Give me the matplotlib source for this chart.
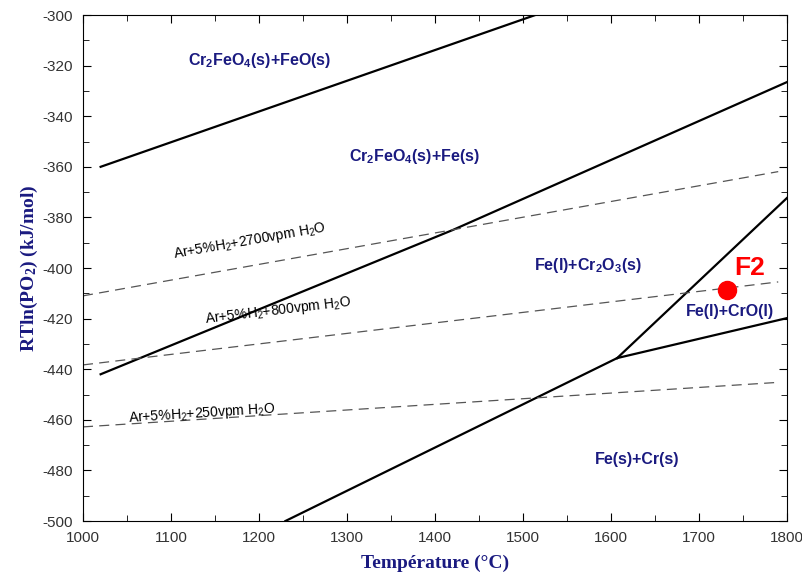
import numpy as np
import matplotlib.pyplot as plt
from matplotlib.ticker import MultipleLocator

plt.rcParams['axes.unicode_minus'] = False
plt.rcParams['mathtext.default'] = 'regular'

# phase boundaries (T in degC, RTln(PO2) in kJ/mol)
feo_fe_T = [1020, 1514]
feo_fe_G = [-360, -300]

spinel_T = [1020, 1420, 1800]
spinel_G = [-442, -385, -326.5]

crcr2o3_T = [1230, 1607]
crcr2o3_G = [-500, -435.6]

cr2o3_cro_T = [1607, 1800]
cr2o3_cro_G = [-435.6, -372.3]

cro_cr_T = [1607, 1800]
cro_cr_G = [-435.6, -419.8]

# gas atmospheres
gas_T = [1000, 1790]
gas_2700 = [-411, -361.9]
gas_800 = [-438.3, -405.5]
gas_250 = [-462.8, -445.2]

f2_T = 1732
f2_G = -408.7

navy = '#1a1a80'

fig = plt.figure(figsize=(8.03, 5.75), dpi=100)
ax = fig.add_axes([0.1034, 0.0939, 0.8767, 0.8800])

for T, G in [(feo_fe_T, feo_fe_G), (spinel_T, spinel_G), (crcr2o3_T, crcr2o3_G),
             (cr2o3_cro_T, cr2o3_cro_G), (cro_cr_T, cro_cr_G)]:
    ax.plot(T, G, color='black', lw=1.6)

for G in [gas_2700, gas_800, gas_250]:
    ax.plot(gas_T, G, color='#555555', lw=0.9, dashes=(8, 5))

ax.plot(f2_T, f2_G, 'o', color='red', ms=13)
ax.text(1758, -400, 'F2', color='red', fontsize=19, fontweight='bold',
        ha='center', va='center', family='Liberation Sans')

lab_kw = dict(color='black', fontsize=10, ha='center', va='center', family='Liberation Sans')
ax.text(1190, -389.5, 'Ar+5%H$_2$+2700vpm H$_2$O', rotation=10, **lab_kw)
ax.text(1222, -417, 'Ar+5%H$_2$+800vpm H$_2$O', rotation=6.8, **lab_kw)
ax.text(1135, -457.5, 'Ar+5%H$_2$+250vpm H$_2$O', rotation=3.7, **lab_kw)

reg_kw = dict(color=navy, fontsize=11.5, fontweight='bold', ha='center', va='center',
              family='Liberation Sans')
ax.text(1201, -317.8, 'Cr$_2$FeO$_4$(s)+FeO(s)', **reg_kw)
ax.text(1377, -356, 'Cr$_2$FeO$_4$(s)+Fe(s)', **reg_kw)
ax.text(1574, -399, 'Fe(l)+Cr$_2$O$_3$(s)', **reg_kw)
ax.text(1735, -417, 'Fe(l)+CrO(l)', **reg_kw)
ax.text(1630, -475.5, 'Fe(s)+Cr(s)', **reg_kw)

ax.set_xlim(1000, 1800)
ax.set_ylim(-500, -300)
ax.xaxis.set_major_locator(MultipleLocator(100))
ax.xaxis.set_minor_locator(MultipleLocator(50))
ax.yaxis.set_major_locator(MultipleLocator(20))
ax.yaxis.set_minor_locator(MultipleLocator(10))
ax.tick_params(which='both', direction='in', top=True, right=True, labelsize=11,
               colors='black', pad=7)
ax.tick_params(which='major', length=6)
ax.tick_params(which='minor', length=4)
for lbl in ax.get_xticklabels() + ax.get_yticklabels():
    lbl.set_family('Liberation Sans')
    lbl.set_color('#333333')

ax.set_xlabel('Température (°C)', family='Liberation Serif', fontweight='bold',
              fontsize=14, color=navy, labelpad=7)
ax.set_ylabel('RTln(PO$_2$) (kJ/mol)', family='Liberation Serif', fontweight='bold',
              fontsize=14, color=navy, labelpad=2)

fig.savefig('out.png', dpi=100)
